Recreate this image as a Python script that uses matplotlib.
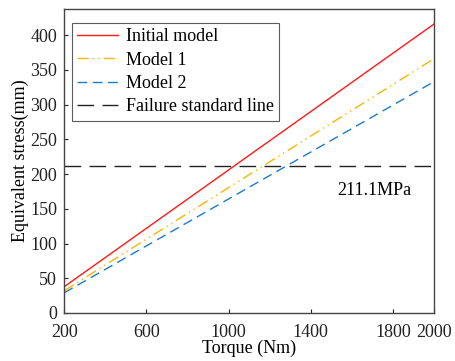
import matplotlib
matplotlib.use("Agg")
import matplotlib.pyplot as plt
import numpy as np

# data
torque = np.array([200, 2000])
initial_model = np.array([37.8, 416])
model_1 = np.array([32, 366])
model_2 = np.array([29, 333])
failure_stress = 211.1

xticks = [200, 600, 1000, 1400, 1800, 2000]
yticks = [0, 50, 100, 150, 200, 250, 300, 350, 400]

plt.rcParams['font.family'] = ['Liberation Serif', 'DejaVu Serif']
plt.rcParams['font.size'] = 13

fig = plt.figure(figsize=(4.55, 3.61), dpi=100)
ax = fig.add_axes([0.141, 0.133, 0.813, 0.841])

ax.plot(torque, initial_model, color='#FF1A1A', lw=1.0, label='Initial model')
ax.plot(torque, model_1, color='#F5B800', lw=1.0,
        linestyle=(0, (8, 3, 1, 3, 1, 3)), label='Model 1')
ax.plot(torque, model_2, color='#1B7CC9', lw=1.0,
        linestyle=(0, (7, 4)), label='Model 2')
ax.axhline(failure_stress, color='#222222', lw=1.0,
           linestyle=(0, (12, 6)), label='Failure standard line')

ax.text(1530, 177, '%.1fMPa' % failure_stress, fontsize=13, va='center', ha='left')

ax.set_xlim(200, 2000)
ax.set_ylim(0, 437)
ax.set_xticks(xticks)
ax.set_yticks(yticks)
ax.tick_params(direction='in', length=3, width=0.8, colors='#222222',
               labelcolor='#222222', labelsize=13)
ax.tick_params(axis='x', pad=8)
ax.tick_params(axis='y', pad=5)
for s in ax.spines.values():
    s.set_color('#444444')
    s.set_linewidth(1.0)

ax.set_xlabel('Torque (Nm)', fontsize=13, labelpad=-1)
ax.set_ylabel('Equivalent stress(mm)', fontsize=13, labelpad=1)

leg = ax.legend(loc='upper left', bbox_to_anchor=(0.02, 0.955), fontsize=13,
                frameon=True, fancybox=False, edgecolor='#333333',
                handlelength=2.3, borderpad=0.3, labelspacing=0.35,
                handletextpad=0.4, borderaxespad=0)
leg.get_frame().set_linewidth(0.8)

fig.savefig('out.png', dpi=100)
